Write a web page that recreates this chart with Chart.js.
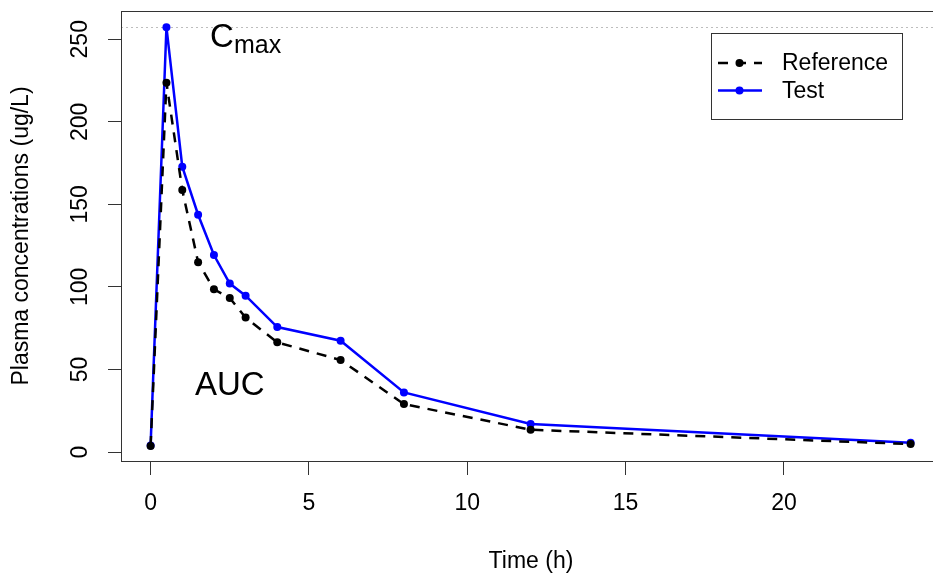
<!DOCTYPE html>
<html>
<head>
<meta charset="utf-8">
<script src="https://cdn.jsdelivr.net/npm/chart.js@4.4.1/dist/chart.umd.min.js"></script>
<style>
  html, body { margin: 0; padding: 0; background: #fff; overflow: hidden; }
  /* plot region runs past the right edge of the window, like the original */
  #wrap { width: 945px; height: 578px; }
</style>
</head>
<body>
<div id="wrap"><canvas id="pkChart"></canvas></div>
<script>
const timeHours = [0, 0.5, 1, 1.5, 2, 2.5, 3, 4, 6, 8, 12, 24];
const referenceConc = [3.6, 223.7, 158.7, 115, 98.5, 93.3, 81.4, 66.4, 55.7, 29, 13.5, 4.8];
const testConc = [4, 257.3, 172.8, 143.7, 119.3, 102, 94.7, 75.7, 67.4, 36.1, 17, 5.6];

const xTicks = [0, 5, 10, 15, 20];
const yTicks = [0, 50, 100, 150, 200, 250];

const FONT = "'Liberation Sans', Arial, sans-serif";
const AXIS_COLOR = "#333";

function toPoints(values) {
  return timeHours.map((t, i) => ({ x: t, y: values[i] }));
}

// box, Cmax guide, annotations and R-style legend
const rPlotExtras = {
  id: "rPlotExtras",
  beforeDatasetsDraw(chart) {
    const { ctx, chartArea, scales } = chart;
    const cmax = Math.max(...testConc);
    const y = Math.round(scales.y.getPixelForValue(cmax)) + 0.5;
    ctx.save();
    ctx.strokeStyle = "#bdbdbd";
    ctx.lineWidth = 1;
    ctx.setLineDash([2, 3]);
    ctx.beginPath();
    ctx.moveTo(chartArea.left, y);
    ctx.lineTo(chartArea.right, y);
    ctx.stroke();
    ctx.restore();
  },
  afterDraw(chart) {
    const { ctx, chartArea, scales } = chart;
    ctx.save();

    // plot box
    ctx.strokeStyle = AXIS_COLOR;
    ctx.lineWidth = 1;
    ctx.strokeRect(
      Math.round(chartArea.left) + 0.5,
      Math.round(chartArea.top) + 0.5,
      Math.round(chartArea.right - chartArea.left),
      Math.round(chartArea.bottom - chartArea.top)
    );

    // C_max label
    ctx.fillStyle = "#000";
    const cx = scales.x.getPixelForValue(3);
    const cy = scales.y.getPixelForValue(250);
    ctx.font = "33px " + FONT;
    const wC = ctx.measureText("C").width;
    ctx.font = "25px " + FONT;
    const wSub = ctx.measureText("max").width;
    const left = cx - (wC + wSub) / 2;
    ctx.textAlign = "left";
    ctx.textBaseline = "alphabetic";
    ctx.font = "33px " + FONT;
    ctx.fillText("C", left, cy + 8);
    ctx.font = "25px " + FONT;
    ctx.fillText("max", left + wC, cy + 14);

    // AUC label
    ctx.font = "33px " + FONT;
    ctx.textAlign = "center";
    ctx.textBaseline = "middle";
    ctx.fillText("AUC", scales.x.getPixelForValue(2.5), scales.y.getPixelForValue(40));

    // legend
    const lx = 711, ly = chartArea.top + 22, lw = 191, lh = 86;
    ctx.fillStyle = "#fff";
    ctx.fillRect(lx, ly, lw, lh);
    ctx.strokeStyle = AXIS_COLOR;
    ctx.lineWidth = 1;
    ctx.strokeRect(lx + 0.5, ly + 0.5, lw, lh);

    const items = chart.data.datasets;
    items.forEach((ds, i) => {
      const yy = ly + 30 + i * 27.5;
      ctx.strokeStyle = ds.borderColor;
      ctx.lineWidth = ds.borderWidth;
      ctx.setLineDash(ds.borderDash || []);
      ctx.beginPath();
      ctx.moveTo(lx + 7, yy);
      ctx.lineTo(lx + 51, yy);
      ctx.stroke();
      ctx.setLineDash([]);
      ctx.fillStyle = ds.pointBackgroundColor;
      ctx.beginPath();
      ctx.arc(lx + 28.5, yy, ds.pointRadius, 0, Math.PI * 2);
      ctx.fill();
      ctx.fillStyle = "#000";
      ctx.font = "23px " + FONT;
      ctx.textAlign = "left";
      ctx.textBaseline = "middle";
      ctx.fillText(ds.label, lx + 71, yy + 1);
    });

    ctx.restore();
  }
};

new Chart(document.getElementById("pkChart"), {
  type: "line",
  data: {
    datasets: [
      {
        label: "Reference",
        data: toPoints(referenceConc),
        borderColor: "#000000",
        backgroundColor: "#000000",
        pointBackgroundColor: "#000000",
        borderWidth: 2.5,
        borderDash: [10, 8],
        pointRadius: 4,
        pointBorderWidth: 0,
        tension: 0,
        fill: false
      },
      {
        label: "Test",
        data: toPoints(testConc),
        borderColor: "#0000ff",
        backgroundColor: "#0000ff",
        pointBackgroundColor: "#0000ff",
        borderWidth: 2.5,
        pointRadius: 4,
        pointBorderWidth: 0,
        tension: 0,
        fill: false
      }
    ]
  },
  options: {
    responsive: true,
    maintainAspectRatio: false,
    animation: false,
    events: [],
    layout: { padding: { top: 11, right: 2, left: 0, bottom: 0 } },
    plugins: {
      legend: { display: false },
      tooltip: { enabled: false }
    },
    scales: {
      x: {
        type: "linear",
        min: -0.935,
        max: 24.96,
        afterBuildTicks: (scale) => { scale.ticks = xTicks.map((v) => ({ value: v })); },
        afterFit: (scale) => {
          scale.height = 117;
          scale.paddingLeft = 0;
          scale.paddingRight = 0;
        },
        grid: { drawOnChartArea: false, tickLength: 14, color: AXIS_COLOR },
        border: { display: false },
        ticks: {
          autoSkip: false,
          maxRotation: 0,
          padding: 15,
          color: "#000",
          font: { size: 23, family: FONT }
        },
        title: {
          display: true,
          text: "Time (h)",
          color: "#000",
          font: { size: 23, family: FONT },
          padding: { top: 0, bottom: 2.5 }
        }
      },
      y: {
        min: -5.45,
        max: 267.1,
        afterBuildTicks: (scale) => { scale.ticks = yTicks.map((v) => ({ value: v })); },
        afterFit: (scale) => {
          scale.width = 121;
          scale.paddingTop = 0;
          scale.paddingBottom = 0;
        },
        grid: { drawOnChartArea: false, tickLength: 13, color: AXIS_COLOR },
        border: { display: false },
        ticks: {
          autoSkip: false,
          minRotation: 90,
          maxRotation: 90,
          crossAlign: "center",
          padding: 8,
          color: "#000",
          font: { size: 23, family: FONT }
        },
        title: {
          display: true,
          text: "Plasma concentrations (ug/L)",
          color: "#000",
          font: { size: 23, family: FONT },
          padding: { top: 8, bottom: 0 }
        }
      }
    }
  },
  plugins: [rPlotExtras]
});
</script>
</body>
</html>
